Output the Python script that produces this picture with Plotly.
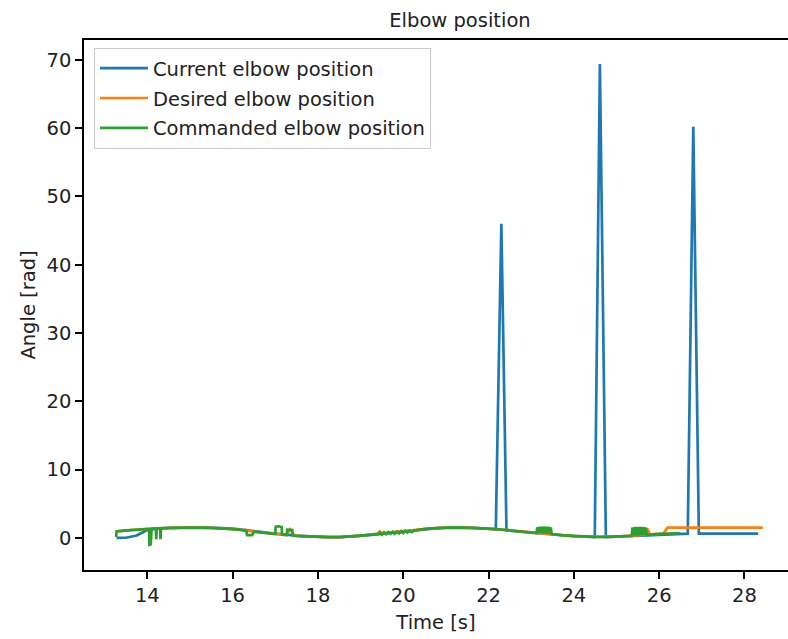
import plotly.graph_objects as go

# ---- Current elbow position (measured) ----
current_t = [13.28, 13.50, 13.75, 14.00, 14.25, 14.50, 14.75, 15.00, 15.25, 15.50,
             15.75, 16.00, 16.25, 16.50, 16.75, 17.00, 17.25, 17.50, 17.75, 18.00,
             18.25, 18.50, 18.75, 19.00, 19.25, 19.50, 19.75, 20.00, 20.25, 20.50,
             20.75, 21.00, 21.25, 21.50, 21.75, 22.00, 22.17, 22.30, 22.42, 22.60,
             22.80, 23.00, 23.25, 23.50, 23.75, 24.00, 24.25, 24.49, 24.61, 24.75,
             25.00, 25.25, 25.50, 25.75, 26.00, 26.25, 26.50, 26.67, 26.80, 26.93,
             27.20, 27.50, 27.80, 28.10, 28.32]
current_pos = [0.00, 0.02, 0.35, 1.15, 1.38, 1.45, 1.50, 1.52, 1.52, 1.50,
               1.45, 1.35, 1.20, 1.02, 0.82, 0.62, 0.45, 0.32, 0.22, 0.14,
               0.10, 0.11, 0.18, 0.30, 0.45, 0.62, 0.80, 0.97, 1.12, 1.28,
               1.40, 1.48, 1.52, 1.50, 1.44, 1.35, 1.27, 46.0, 1.12, 1.00,
               0.88, 0.75, 0.60, 0.46, 0.34, 0.24, 0.17, 0.13, 69.4, 0.13,
               0.17, 0.24, 0.33, 0.43, 0.52, 0.58, 0.60, 0.62, 60.2, 0.62,
               0.62, 0.62, 0.62, 0.62, 0.62]

# ---- Desired elbow position ----
desired_t = [13.27, 13.50, 13.75, 14.00, 14.25, 14.50, 14.75, 15.00, 15.25, 15.50,
             15.75, 16.00, 16.25, 16.30, 16.35, 16.50, 16.75, 17.00, 17.25, 17.35,
             17.45, 17.50, 17.75, 18.00, 18.25, 18.50, 18.75, 19.00, 19.25, 19.40,
             19.45, 19.50, 19.75, 20.00, 20.25, 20.50, 20.75, 21.00, 21.25, 21.50,
             21.75, 22.00, 22.25, 22.50, 22.75, 23.00, 23.25, 23.50, 23.75, 24.00,
             24.25, 24.50, 24.75, 25.00, 25.25, 25.50, 25.68, 25.72, 25.78, 26.00,
             26.10, 26.20, 26.50, 27.00, 27.50, 28.00, 28.43]
desired_pos = [0.95, 1.10, 1.22, 1.32, 1.40, 1.46, 1.50, 1.52, 1.51, 1.47,
               1.40, 1.28, 1.12, 1.20, 1.05, 0.92, 0.74, 0.57, 0.42, 1.25,
               0.35, 0.30, 0.20, 0.13, 0.10, 0.12, 0.19, 0.32, 0.50, 0.62,
               0.95, 0.68, 0.86, 1.02, 1.17, 1.32, 1.43, 1.50, 1.53, 1.51,
               1.45, 1.36, 1.24, 1.10, 0.95, 0.80, 0.64, 0.49, 0.36, 0.26,
               0.18, 0.14, 0.14, 0.18, 0.26, 0.36, 0.48, 1.35, 0.52, 0.60,
               0.66, 1.50, 1.50, 1.50, 1.50, 1.50, 1.50]

# ---- Commanded elbow position ----
commanded_t = [13.27, 13.28, 13.50, 13.75, 14.00, 14.04, 14.05, 14.07, 14.08, 14.10,
               14.20, 14.21, 14.22, 14.30, 14.31, 14.32, 14.50, 14.75, 15.00, 15.25,
               15.50, 15.75, 16.00, 16.25, 16.32, 16.34, 16.40, 16.46, 16.50, 16.75,
               17.00, 17.01, 17.08, 17.15, 17.16, 17.27, 17.28, 17.40, 17.41, 17.50,
               17.75, 18.00, 18.25, 18.50, 18.75, 19.00, 19.25, 19.40, 19.45, 19.50,
               19.55, 19.60, 19.65, 19.70, 19.75, 19.80, 19.85, 19.90, 19.95, 20.00,
               20.05, 20.10, 20.15, 20.20, 20.25, 20.30, 20.50, 20.75, 21.00, 21.25,
               21.50, 21.75, 22.00, 22.25, 22.50, 22.75, 23.00, 23.13, 23.14, 23.16,
               23.18, 23.20, 23.22, 23.24, 23.26, 23.28, 23.30, 23.32, 23.34, 23.36,
               23.38, 23.40, 23.42, 23.44, 23.46, 23.48, 23.75, 24.00, 24.25, 24.50,
               24.75, 25.00, 25.25, 25.36, 25.37, 25.39, 25.41, 25.43, 25.45, 25.47,
               25.49, 25.51, 25.53, 25.55, 25.57, 25.59, 25.61, 25.63, 25.65, 25.67,
               25.69, 25.71, 25.90, 26.10, 26.30, 26.48]
commanded_pos = [0.10, 0.95, 1.10, 1.22, 1.32, 1.33, -1.20, 1.30, -1.10, 1.35,
                 1.38, -0.20, 1.38, 1.40, -0.20, 1.40, 1.46, 1.50, 1.52, 1.51,
                 1.47, 1.40, 1.28, 1.12, 1.05, 0.40, 0.45, 0.40, 0.92, 0.74,
                 0.57, 1.65, 1.70, 1.60, 0.50, 0.42, 1.20, 1.15, 0.34, 0.30,
                 0.20, 0.13, 0.10, 0.12, 0.19, 0.32, 0.48, 0.55, 0.75, 0.45,
                 0.80, 0.55, 0.85, 0.60, 0.88, 0.58, 0.92, 0.65, 0.98, 0.70,
                 1.03, 0.80, 1.05, 0.85, 1.10, 1.12, 1.32, 1.43, 1.50, 1.53,
                 1.51, 1.45, 1.36, 1.24, 1.10, 0.95, 0.80, 0.72, 1.55, 0.70,
                 1.62, 0.70, 1.65, 0.68, 1.65, 0.66, 1.65, 0.64, 1.65, 0.62,
                 1.65, 0.60, 1.62, 0.58, 1.55, 0.56, 0.36, 0.26, 0.18, 0.14,
                 0.14, 0.18, 0.26, 0.31, 1.50, 0.32, 1.58, 0.33, 1.60, 0.34,
                 1.60, 0.35, 1.60, 0.36, 1.60, 0.37, 1.60, 0.38, 1.58, 0.40,
                 1.50, 0.42, 0.55, 0.62, 0.66, 0.72]

x_ticks = [14, 16, 18, 20, 22, 24, 26, 28]
y_ticks = [0, 10, 20, 30, 40, 50, 60, 70]

FONT = "DejaVu Sans"
LW = 2.7

fig = go.Figure()
fig.add_trace(go.Scatter(x=current_t, y=current_pos, mode="lines",
                         name="Current elbow position", legendgroup="a",
                         line=dict(color="#1f77b4", width=LW)))
fig.add_trace(go.Scatter(x=desired_t, y=desired_pos, mode="lines",
                         name="Desired elbow position", legendgroup="b",
                         line=dict(color="#ff7f0e", width=LW)))
fig.add_trace(go.Scatter(x=commanded_t, y=commanded_pos, mode="lines",
                         name="Commanded elbow position", legendgroup="c",
                         line=dict(color="#2ca02c", width=LW)))

axis_style = dict(
    showgrid=False, zeroline=False, showline=True, linecolor="black",
    linewidth=1.5, ticks="outside", ticklen=7, tickwidth=1.5, tickcolor="black",
    tickfont=dict(family=FONT, size=19.5, color="#222"),
)

fig.update_layout(
    width=788, height=639,
    margin=dict(l=84, r=0, t=40, b=69),
    paper_bgcolor="white", plot_bgcolor="white",
    font=dict(family=FONT, size=19.5, color="#222"),
    title=dict(text="Elbow position", x=(460 - 84) / 704, xref="paper",
               xanchor="center", y=1 - 20 / 639, yref="container",
               yanchor="middle", font=dict(family=FONT, size=19.5, color="#222")),
    xaxis=dict(range=[12.516, 29.02], tickvals=x_ticks, mirror=True,
               title=dict(text="Time [s]", standoff=9,
                          font=dict(family=FONT, size=19.5)),
               **axis_style),
    yaxis=dict(range=[-4.7, 72.9], tickvals=y_ticks, mirror=False,
               title=dict(text="Angle [rad]", standoff=6,
                          font=dict(family=FONT, size=19.5)),
               **axis_style),
    legend=dict(x=0.0142, y=0.985, xanchor="left", yanchor="top",
                bgcolor="rgba(255,255,255,0.8)", bordercolor="#cccccc",
                borderwidth=1, tracegroupgap=1.5, itemwidth=48,
                font=dict(family=FONT, size=19.5, color="#222")),
    showlegend=True,
)

fig.write_html("out.html")
